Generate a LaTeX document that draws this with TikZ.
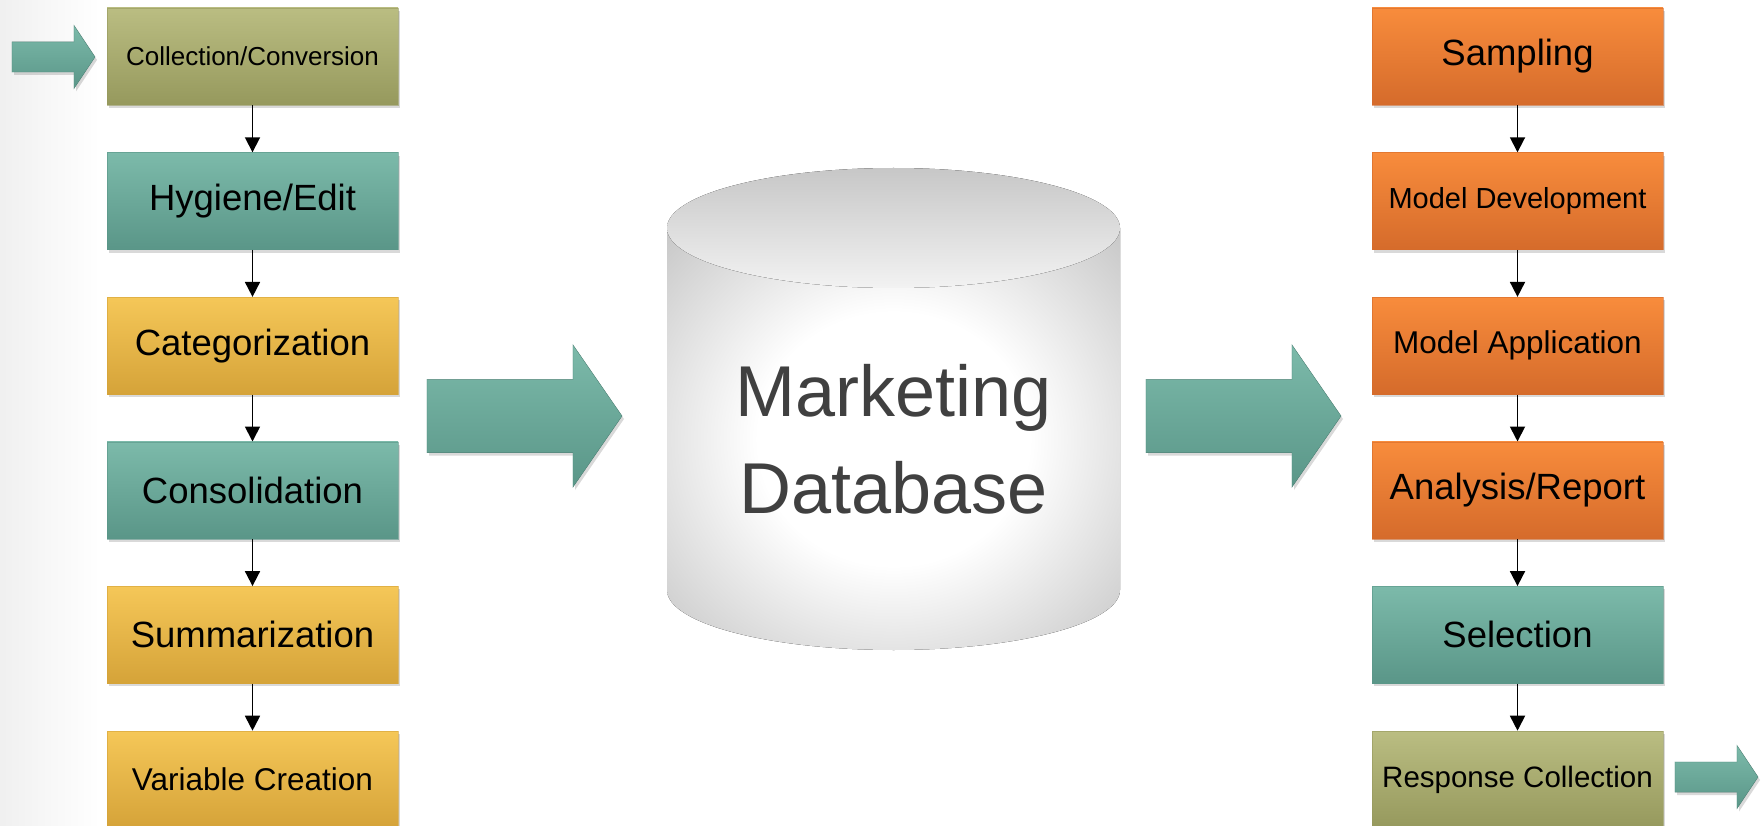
\documentclass[tikz,border=0pt]{standalone}
\usepackage{fontspec}
\setmainfont{Liberation Sans}
\usetikzlibrary{positioning,shadows,arrows.meta}
\definecolor{olvT}{RGB}{186,189,130}
\definecolor{olvB}{RGB}{150,153,93}
\definecolor{tealT}{RGB}{124,186,170}
\definecolor{tealB}{RGB}{90,150,136}
\definecolor{goldT}{RGB}{245,199,88}
\definecolor{goldB}{RGB}{213,163,57}
\definecolor{ornT}{RGB}{248,140,60}
\definecolor{ornB}{RGB}{213,107,43}
\definecolor{dbtxt}{RGB}{64,64,64}
\pgfdeclareradialshading{dbglow}{\pgfpoint{0bp}{0bp}}{color(0bp)=(white); color(15bp)=(white); color(50bp)=(black!38)}
\tikzset{
  stage/.style={minimum width=291pt,minimum height=97pt,inner sep=0pt,line width=0.6pt,draw opacity=0.6,
    font=\fontsize{36.5}{42}\selectfont,drop shadow={shadow xshift=2pt,shadow yshift=-3pt,opacity=0.3}},
  olv/.style={stage,top color=olvT,bottom color=olvB,draw=olvB},
  tl/.style={stage,top color=tealT,bottom color=tealB,draw=tealB},
  gld/.style={stage,top color=goldT,bottom color=goldB,draw=goldB},
  orn/.style={stage,top color=ornT,bottom color=ornB,draw=ornB},
  flow/.style={line width=1.8pt,-{Triangle[width=15pt,length=15pt]}},
  blk/.style={top color=tealT,bottom color=tealB,draw=tealB,draw opacity=0.6,line width=0.6pt,
    drop shadow={shadow xshift=2pt,shadow yshift=-3pt,opacity=0.3}},
  pics/blockarr/.style args={#1/#2/#3/#4}{code={
    \filldraw[blk] (0,#2) -- (#1-#3,#2) -- (#1-#3,#4) -- (#1,0) -- (#1-#3,-#4) -- (#1-#3,-#2) -- (0,-#2) -- cycle;}},
}
\begin{document}
\begin{tikzpicture}[x=1pt,y=1pt]
\useasboundingbox (0,0) rectangle (1762,-826);
\fill[left color=black!6,right color=white] (0,0) rectangle (100,-826);
% left column
\node[olv,font=\fontsize{26}{30}\selectfont] (coll) at (252.5,-56.5) {Collection/Conversion};
\node[tl,below=47pt of coll] (hyg) {Hygiene/Edit};
\node[gld,below=47pt of hyg] (cat) {Categorization};
\node[tl,below=47pt of cat] (cons) {Consolidation};
\node[gld,below=47pt of cons] (summ) {Summarization};
\node[gld,below=47pt of summ,font=\fontsize{31.5}{36}\selectfont] (vars) {Variable Creation};
\draw[flow] (coll) -- (hyg);
\draw[flow] (hyg) -- (cat);
\draw[flow] (cat) -- (cons);
\draw[flow] (cons) -- (summ);
\draw[flow] (summ) -- (vars);
% right column
\node[orn] (samp) at (1517.5,-56.5) {Sampling};
\node[orn,below=47pt of samp,font=\fontsize{29}{34}\selectfont] (mdev) {Model Development};
\node[orn,below=47pt of mdev,font=\fontsize{31.5}{36}\selectfont] (mapp) {Model Application};
\node[orn,below=47pt of mapp] (anal) {Analysis/Report};
\node[tl,below=47pt of anal] (sel) {Selection};
\node[olv,below=47pt of sel,font=\fontsize{29.5}{34}\selectfont] (resp) {Response Collection};
\draw[flow] (samp) -- (mdev);
\draw[flow] (mdev) -- (mapp);
\draw[flow] (mapp) -- (anal);
\draw[flow] (anal) -- (sel);
\draw[flow] (sel) -- (resp);
% database
\fill[shading=dbglow] (667,-228) -- (667,-590) arc[start angle=180,end angle=360,x radius=226.5,y radius=60] -- (1120,-228) -- cycle;
\fill[top color=black!22,bottom color=black!5] (893.5,-228) ellipse[x radius=226.5,y radius=60];
\node[font=\fontsize{72}{97}\selectfont,text=dbtxt,align=center,inner sep=0pt] (db) at (893.5,-439) {Marketing\\Database};
% block arrows
\pic at (12,-57) {blockarr=83/15/21/31.5};
\pic at (427,-416) {blockarr=195/36.5/49/71};
\pic at (1146,-416) {blockarr=195/36.5/49/71};
\pic at (1675,-777) {blockarr=83/15/21/31.5};
\end{tikzpicture}
\end{document}
